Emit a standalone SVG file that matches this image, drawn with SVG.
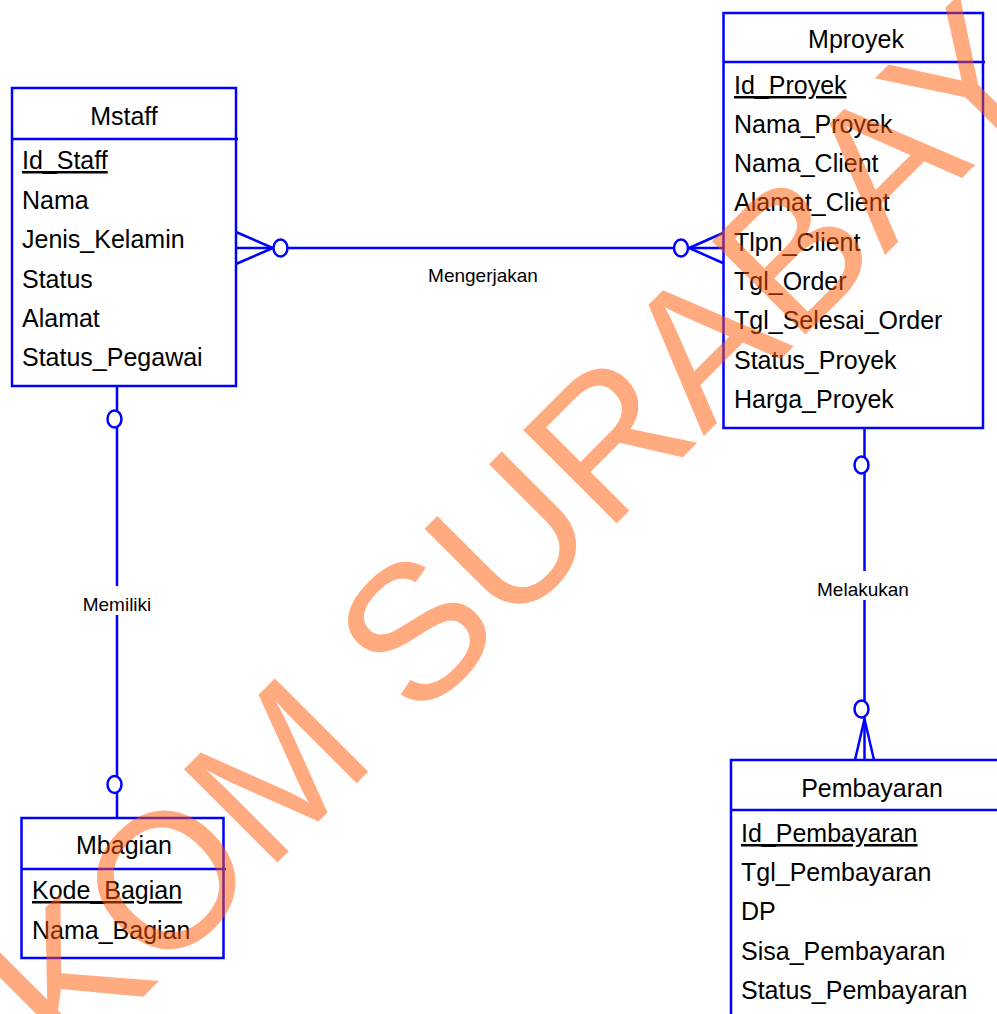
<svg xmlns="http://www.w3.org/2000/svg" width="997" height="1014" viewBox="0 0 997 1014">
<style>
.box{fill:#fff;stroke:#0000ff;stroke-width:2.5}
.ln{fill:none;stroke:#0000ff;stroke-width:2.5}
.circ{fill:#fff;stroke:#0000ff;stroke-width:2.5}
.t{font-family:"Liberation Sans",Arial,sans-serif;font-size:25px;fill:#000}
.title{font-family:"Liberation Sans",Arial,sans-serif;font-size:25px;fill:#000;text-anchor:middle}
.lbl{font-family:"Liberation Sans",Arial,sans-serif;font-size:19px;fill:#000;text-anchor:middle}
.pk{text-decoration:underline}
.wm{font-family:"Liberation Sans",Arial,sans-serif;font-size:192px;fill:#ff5500;fill-opacity:0.5}
</style>
<rect width="997" height="1014" fill="#fff"/>
<g id="connectors">
  <line class="ln" x1="236" y1="248" x2="723" y2="248"/>
  <polyline class="ln" points="236,232 273,248 236,264"/>
  <ellipse class="circ" cx="280.5" cy="248" rx="7" ry="8.5"/>
  <polyline class="ln" points="723,233 689,248 723,263"/>
  <ellipse class="circ" cx="681" cy="248" rx="7" ry="8.5"/>
  <text class="lbl" x="483" y="282">Mengerjakan</text>

  <line class="ln" x1="117" y1="386" x2="117" y2="586"/>
  <line class="ln" x1="117" y1="615" x2="117" y2="818"/>
  <ellipse class="circ" cx="114.5" cy="419" rx="7" ry="8.5"/>
  <ellipse class="circ" cx="114.5" cy="784.5" rx="7" ry="8.5"/>
  <text class="lbl" x="117" y="611">Memiliki</text>

  <line class="ln" x1="864.5" y1="428" x2="864.5" y2="571"/>
  <line class="ln" x1="864.5" y1="600" x2="864.5" y2="760"/>
  <polyline class="ln" points="855,760 864.5,719 874,760"/>
  <ellipse class="circ" cx="861.5" cy="465" rx="7" ry="8.5"/>
  <ellipse class="circ" cx="861.5" cy="709" rx="7" ry="8.5"/>
  <text class="lbl" x="863" y="596">Melakukan</text>
</g>
<g id="Mstaff">
  <rect class="box" x="12" y="88" width="224" height="298"/>
  <line class="ln" x1="12" y1="139" x2="238" y2="139"/>
  <text class="title" x="124" y="125">Mstaff</text>
  <text class="t pk" x="22" y="169">Id_Staff</text>
  <text class="t" x="22" y="209">Nama</text>
  <text class="t" x="22" y="248">Jenis_Kelamin</text>
  <text class="t" x="22" y="288">Status</text>
  <text class="t" x="22" y="327">Alamat</text>
  <text class="t" x="22" y="366">Status_Pegawai</text>
</g>
<g id="Mproyek">
  <rect class="box" x="723.5" y="13" width="259.5" height="415"/>
  <line class="ln" x1="723.5" y1="62" x2="985" y2="62"/>
  <text class="title" x="856" y="48">Mproyek</text>
  <text class="t pk" x="734" y="94">Id_Proyek</text>
  <text class="t" x="734" y="133">Nama_Proyek</text>
  <text class="t" x="734" y="172">Nama_Client</text>
  <text class="t" x="734" y="211">Alamat_Client</text>
  <text class="t" x="734" y="251">Tlpn_Client</text>
  <text class="t" x="734" y="290">Tgl_Order</text>
  <text class="t" x="734" y="329">Tgl_Selesai_Order</text>
  <text class="t" x="734" y="369">Status_Proyek</text>
  <text class="t" x="734" y="408">Harga_Proyek</text>
</g>
<g id="Mbagian">
  <rect class="box" x="21.5" y="818" width="202" height="140"/>
  <line class="ln" x1="21.5" y1="869" x2="226" y2="869"/>
  <text class="title" x="124" y="854">Mbagian</text>
  <text class="t pk" x="32" y="899">Kode_Bagian</text>
  <text class="t" x="32" y="939">Nama_Bagian</text>
</g>
<g id="Pembayaran">
  <rect class="box" x="731" y="760" width="300" height="300"/>
  <line class="ln" x1="731" y1="810" x2="1031" y2="810"/>
  <text class="title" x="872" y="797">Pembayaran</text>
  <text class="t pk" x="741" y="842">Id_Pembayaran</text>
  <text class="t" x="741" y="881">Tgl_Pembayaran</text>
  <text class="t" x="741" y="920">DP</text>
  <text class="t" x="741" y="960">Sisa_Pembayaran</text>
  <text class="t" x="741" y="999">Status_Pembayaran</text>
</g>
<g id="watermark">
  <text class="wm" transform="translate(70,1070) rotate(-45)">KOM SURABAYA</text>
</g>
</svg>
